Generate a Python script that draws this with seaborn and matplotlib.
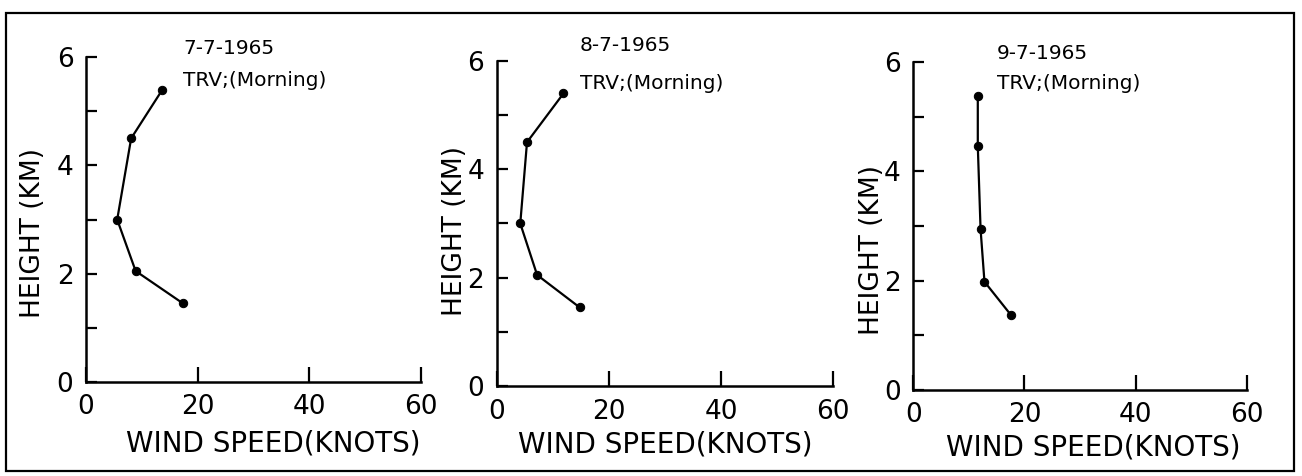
import numpy as np
import pandas as pd
import matplotlib.pyplot as plt
import seaborn as sns
from matplotlib.patches import Rectangle

# wind profiles, Trivandrum morning ascents
dates = ['7-7-1965', '8-7-1965', '9-7-1965']
height_km = [5.4, 4.5, 3.0, 2.05, 1.45]
speed_7 = [13.7, 8.1, 5.6, 8.9, 17.4]
speed_8 = [11.9, 5.4, 4.2, 7.2, 14.8]
speed_9 = [11.6, 11.6, 12.1, 12.8, 17.5]
heights_9 = [5.37, 4.46, 2.94, 1.98, 1.38]

x_ticks = [0, 20, 40, 60]
y_ticks = [0, 2, 4, 6]

sns.set_style('ticks')
plt.rcParams['font.family'] = ['DejaVu Sans']
for k in ['text.color', 'axes.labelcolor', 'xtick.color', 'ytick.color',
          'axes.edgecolor']:
    plt.rcParams[k] = 'black'

fig = plt.figure(figsize=(13.02, 4.76), dpi=100)

# axes boxes (figure fraction) and label placements
boxes = [[0.066, 0.1975, 0.2573, 0.6825],
         [0.3815, 0.189, 0.2585, 0.683],
         [0.7015, 0.1807, 0.2560, 0.6893]]
xlab_pos = [(0.558, -0.188), (0.5, -0.18), (0.539, -0.174)]
ylab_pos = [(-0.158, 0.46), (-0.124, 0.477), (-0.124, 0.426)]
txt_pos = [(17.4, 6.16, 5.57), (14.8, 6.29, 5.59), (15.1, 6.16, 5.61)]

profiles = [(speed_7, height_km), (speed_8, height_km), (speed_9, heights_9)]

for i, (spd, hgt) in enumerate(profiles):
    ax = fig.add_axes(boxes[i])
    df = pd.DataFrame({'speed': spd, 'height': hgt})
    sns.lineplot(data=df, x='speed', y='height', sort=False, estimator=None,
                 ax=ax, color='black', linewidth=1.6, marker='o',
                 markersize=6, markeredgecolor='black')
    ax.set_xlim(0, 60)
    ax.set_ylim(0, 6)
    ax.set_xticks(x_ticks)
    ax.set_yticks(y_ticks)
    ax.set_yticks([1, 3, 5], minor=True)
    ax.tick_params(axis='x', direction='in', length=11, width=1.6,
                   labelsize=19, pad=9)
    ax.tick_params(axis='y', which='both', direction='in', length=8,
                   width=1.6, labelsize=19, pad=9)
    for s in ['top', 'right']:
        ax.spines[s].set_visible(False)
    for s in ['left', 'bottom']:
        ax.spines[s].set_linewidth(1.8)
    ax.set_xlabel('WIND SPEED(KNOTS)', fontsize=20, va='center')
    ax.xaxis.set_label_coords(*xlab_pos[i])
    ax.set_ylabel('HEIGHT (KM)', fontsize=19, va='center')
    ax.yaxis.set_label_coords(*ylab_pos[i])
    tx, ty1, ty2 = txt_pos[i]
    ax.text(tx, ty1, dates[i], fontsize=14.5, va='center', clip_on=False)
    ax.text(tx, ty2, 'TRV;(Morning)', fontsize=14.5, va='center', clip_on=False)

fig.patches.append(Rectangle((0.0046, 0.0105), 0.989, 0.963,
                             transform=fig.transFigure, fill=False,
                             edgecolor='black', linewidth=1.6))

fig.savefig('out.png', dpi=100)
